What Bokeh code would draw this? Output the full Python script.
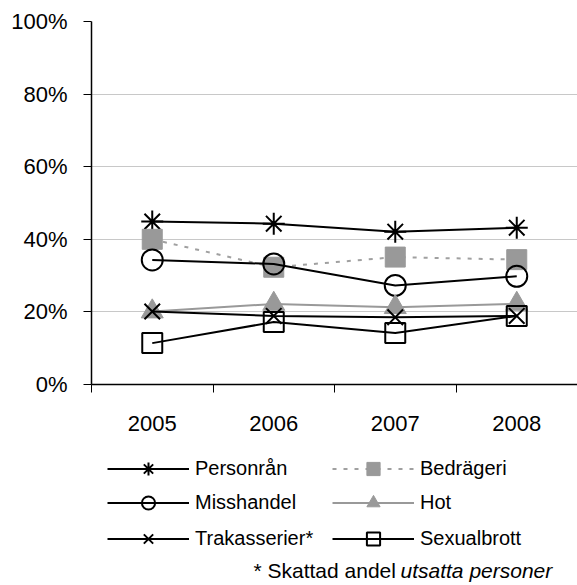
from bokeh.plotting import figure
from bokeh.layouts import column
from bokeh.models import FixedTicker, Legend, LegendItem, Label
from bokeh.embed import file_html
from bokeh.resources import INLINE

years = ["2005", "2006", "2007", "2008"]
personran = [44.9, 44.3, 42.1, 43.2]
bedrageri = [40.0, 32.3, 35.1, 34.4]
misshandel = [34.3, 33.2, 27.3, 29.8]
hot = [20.1, 22.2, 21.3, 22.2]
trakasserier = [20.1, 18.9, 18.5, 18.9]
sexualbrott = [11.4, 17.2, 14.2, 18.9]
y_ticks = [0, 20, 40, 60, 80, 100]
y_tick_labels = ["0%", "20%", "40%", "60%", "80%", "100%"]
footnote_plain = "* Skattad andel"
footnote_italic = "utsatta personer"

FONT = "Liberation Sans"
GRAY = "#999999"
NAN = float("nan")
W, H2 = 577, 141

x = [i + 0.5 for i in range(len(years))]

# ---------------- main chart ----------------
p = figure(frame_width=486, frame_height=363,
           x_range=(0, len(years)), y_range=(0, 100),
           output_backend="svg", toolbar_location=None,
           min_border_left=91, min_border_right=0, min_border_top=21,
           min_border_bottom=60)
p.outline_line_color = None
p.background_fill_color = "white"

p.yaxis.ticker = FixedTicker(ticks=y_ticks)
p.yaxis.major_label_overrides = {t: l for t, l in zip(y_ticks, y_tick_labels)}
p.yaxis.major_tick_out = 8
p.yaxis.major_tick_in = 0
p.yaxis.minor_tick_line_color = None
p.yaxis.axis_line_color = "black"
p.yaxis.axis_line_width = 1.5
p.yaxis.major_tick_line_color = "black"
p.yaxis.major_label_text_font = FONT
p.yaxis.major_label_text_font_size = "22px"
p.yaxis.major_label_text_color = "black"
p.yaxis.major_label_standoff = 16

p.xaxis.ticker = FixedTicker(ticks=x, minor_ticks=list(range(len(years) + 1)))
p.xaxis.major_label_overrides = {xi: yr for xi, yr in zip(x, years)}
p.xaxis.major_tick_line_color = None
p.xaxis.major_tick_out = 8
p.xaxis.major_tick_in = 0
p.xaxis.minor_tick_out = 8
p.xaxis.minor_tick_in = 0
p.xaxis.minor_tick_line_color = "black"
p.xaxis.axis_line_color = "black"
p.xaxis.axis_line_width = 1.5
p.xaxis.major_label_text_font = FONT
p.xaxis.major_label_text_font_size = "22px"
p.xaxis.major_label_text_color = "black"
p.xaxis.major_label_standoff = 23

p.xgrid.visible = False
p.ygrid.ticker = FixedTicker(ticks=y_ticks)
p.ygrid.grid_line_color = "#c8c8c8"
p.ygrid.grid_line_width = 1

series = [
    ("Personrån", personran, dict(line_color="black", line_width=2),
     dict(marker="asterisk", size=22, line_color="black", line_width=2)),
    ("Bedrägeri", bedrageri, dict(line_color="#a0a0a0", line_width=2, line_dash="4 7"),
     dict(marker="square", size=20, fill_color=GRAY, line_color=GRAY, line_width=1)),
    ("Misshandel", misshandel, dict(line_color="black", line_width=2),
     dict(marker="circle", size=21, fill_color=None, line_color="black", line_width=2)),
    ("Hot", hot, dict(line_color=GRAY, line_width=2),
     dict(marker="triangle", size=22, fill_color=GRAY, line_color=GRAY, line_width=1)),
    ("Trakasserier*", trakasserier, dict(line_color="black", line_width=2),
     dict(marker="x", size=22, line_color="black", line_width=2)),
    ("Sexualbrott", sexualbrott, dict(line_color="black", line_width=2),
     dict(marker="square", size=20, fill_color=None, line_color="black", line_width=2)),
]

for name, vals, lkw, mkw in series:
    p.line(x, vals, **lkw)
    p.scatter(x, vals, **mkw)

# ---------------- legend + footnote panel ----------------
p2 = figure(frame_width=W, frame_height=H2, x_range=(0, W), y_range=(0, H2),
            x_axis_type=None, y_axis_type=None,
            output_backend="svg", toolbar_location=None,
            min_border_left=0, min_border_right=0, min_border_top=0,
            min_border_bottom=0)
p2.outline_line_color = None
p2.xgrid.visible = False
p2.ygrid.visible = False

items = []
for name, vals, lkw, mkw in series:
    rl = p2.line([NAN], [NAN], **lkw)          # legend proxies (no visible mark)
    rm = p2.scatter([NAN], [NAN], **mkw)
    items.append(LegendItem(label=name, renderers=[rl, rm]))

legend_bottoms = [100, 66, 30]
for row_i, k in enumerate(range(0, len(items), 2)):
    lg = Legend(items=items[k:k + 2], orientation="horizontal",
                location=(107, legend_bottoms[row_i]), glyph_width=82, glyph_height=33,
                label_standoff=6, spacing=6, padding=1, margin=0,
                label_width=131, label_height=20,
                border_line_color=None, background_fill_alpha=0,
                label_text_font=FONT, label_text_font_size="20px",
                label_text_color="black")
    p2.add_layout(lg)

# the column aligns this panel's frame with the chart's frame (offset 91 px)
fn_plain = Label(x=162, y=15, x_units="data", y_units="data",
                 text=footnote_plain, text_align="left", text_baseline="middle",
                 text_font=FONT, text_font_size="21px", text_color="black")
fn_italic = Label(x=309, y=15, x_units="data", y_units="data",
                  text=footnote_italic, text_align="left", text_baseline="middle",
                  text_font=FONT, text_font_size="21px", text_font_style="italic",
                  text_color="black")
p2.add_layout(fn_plain)
p2.add_layout(fn_italic)

layout = column(p, p2, spacing=0)
open("out.html", "w").write(file_html(layout, INLINE))
